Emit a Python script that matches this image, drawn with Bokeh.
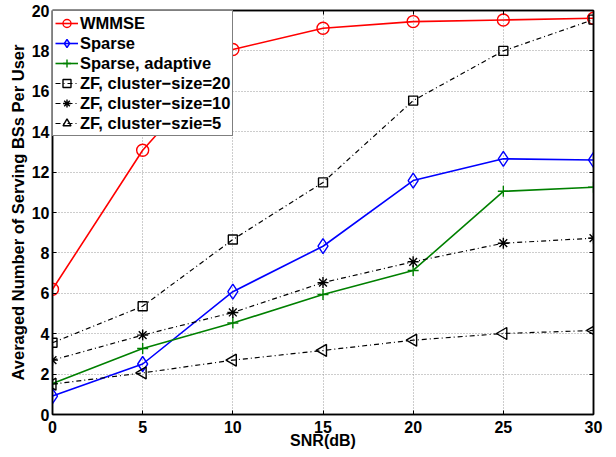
import numpy as np
from bokeh.plotting import figure
from bokeh.models import Range1d, FixedTicker, LinearAxis, Legend
from bokeh.embed import file_html
from bokeh.resources import INLINE

snr = [0, 5, 10, 15, 20, 25, 30]
wmmse = [6.2, 13.08, 18.07, 19.12, 19.45, 19.53, 19.62]
sparse = [0.91, 2.5, 6.08, 8.33, 11.58, 12.66, 12.6]
sparse_adaptive = [1.53, 3.27, 4.53, 5.94, 7.13, 11.05, 11.25]
zf20 = [3.55, 5.36, 8.66, 11.49, 15.54, 18.0, 19.55]
zf10 = [2.69, 3.93, 5.05, 6.53, 7.56, 8.48, 8.73]
zf5 = [1.5, 2.06, 2.69, 3.17, 3.68, 4.01, 4.16]

x_ticks = [0, 5, 10, 15, 20, 25, 30]
y_ticks = [0, 2, 4, 6, 8, 10, 12, 14, 16, 18, 20]

FONT = "Liberation Sans"

p = figure(width=616, height=457, output_backend="svg", toolbar_location=None,
           x_range=Range1d(0, 30), y_range=Range1d(0, 20),
           min_border_left=52, min_border_right=23, min_border_top=10, min_border_bottom=43)

p.outline_line_color = "black"
p.outline_line_width = 1.5
p.background_fill_color = "white"
p.border_fill_color = "white"

# extra axes for inside ticks on top/right (labels not drawn)
p.add_layout(LinearAxis(), "above")
p.add_layout(LinearAxis(), "right")

for ax in p.xaxis + p.yaxis:
    ax.major_tick_in = 4
    ax.major_tick_out = 0
    ax.minor_tick_line_color = None
    ax.axis_line_color = "black"
    ax.axis_line_width = 1.5
    ax.major_tick_line_color = "black"
    ax.major_label_text_font = FONT
    ax.major_label_text_font_style = "bold"
    ax.major_label_text_font_size = "16px"
    ax.major_label_text_color = "black"

p.xaxis.ticker = FixedTicker(ticks=x_ticks)
p.yaxis.ticker = FixedTicker(ticks=y_ticks)

for ax in (p.above[0], p.right[0]):
    ax.major_label_text_font_size = "1px"
    ax.major_label_text_color = None
    ax.major_label_standoff = 0

bx = p.below[0]
bx.major_label_standoff = 6
bx.axis_label = "SNR(dB)"
bx.axis_label_standoff = -4
bx.axis_label_text_font = FONT
bx.axis_label_text_font_style = "bold"
bx.axis_label_text_font_size = "16px"
bx.axis_label_text_color = "black"

ly = p.left[0]
ly.major_label_standoff = 3
ly.axis_label = "Averaged Number of Serving BSs Per User"
ly.axis_label_standoff = 2
ly.axis_label_text_font = FONT
ly.axis_label_text_font_style = "bold"
ly.axis_label_text_font_size = "16.5px"
ly.axis_label_text_color = "black"

p.xgrid.grid_line_color = "#9a9a9a"
p.ygrid.grid_line_color = "#9a9a9a"
p.xgrid.grid_line_dash = "1 2"
p.ygrid.grid_line_dash = "1 2"
p.xgrid.grid_line_width = 1
p.ygrid.grid_line_width = 1

items = []

def series(y, color, marker, size, dash, lw, label, angle=0.0):
    r1 = p.line(snr, y, line_color=color, line_width=lw, line_dash=dash)
    r2 = p.scatter(snr, y, marker=marker, size=size, line_color=color, fill_color=None,
                   line_width=1.4, angle=angle)
    items.append((label, [r1, r2]))

DD = "5 3 1 3"
series(wmmse, "red", "circle", 12, "solid", 1.6, "WMMSE")
series(sparse, "blue", "diamond", 15, "solid", 1.6, "Sparse")
series(sparse_adaptive, "#008000", "cross", 11, "solid", 1.6, "Sparse, adaptive")
series(zf20, "black", "square", 9, DD, 1.2, "ZF, cluster\u2212size=20")
series(zf10, "black", "asterisk", 11, DD, 1.2, "ZF, cluster\u2212size=10")
series(zf5, "black", "triangle", 12, DD, 1.2, "ZF, cluster\u2212szie=5", angle=np.pi / 2)

legend = Legend(items=items, location="top_left")
legend.margin = 0
legend.padding = 2
legend.spacing = 0
legend.glyph_width = 23
legend.glyph_height = 20
legend.label_height = 20
legend.label_standoff = 2
legend.label_text_font = FONT
legend.label_text_font_style = "bold"
legend.label_text_font_size = "16.5px"
legend.label_text_color = "black"
legend.border_line_color = "black"
legend.border_line_width = 1.2
legend.background_fill_color = "white"
legend.background_fill_alpha = 1.0
p.add_layout(legend, "center")

open("out.html", "w").write(file_html(p, INLINE))
